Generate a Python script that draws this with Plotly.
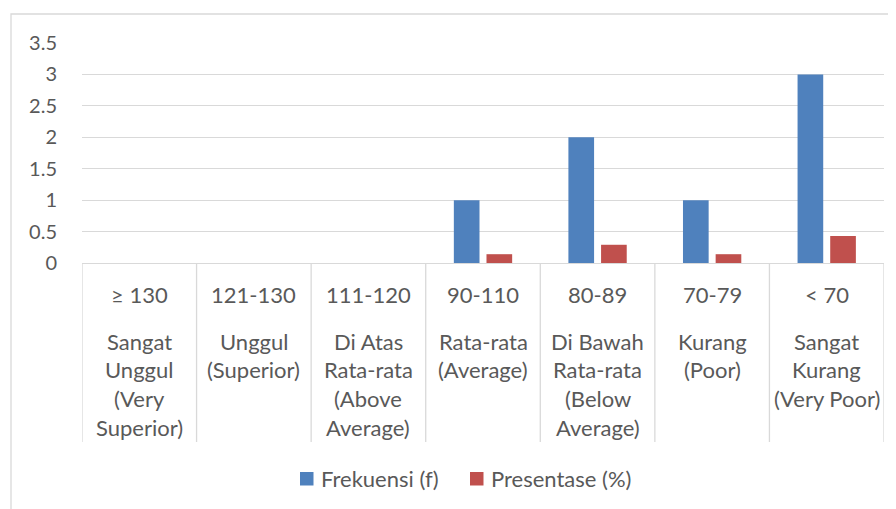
import plotly.graph_objects as go

categories = ["≥ 130", "121-130", "111-120", "90-110", "80-89", "70-79", "< 70"]
descriptions = [
    ["Sangat", "Unggul", "(Very", "Superior)"],
    ["Unggul", "(Superior)"],
    ["Di Atas", "Rata-rata", "(Above", "Average)"],
    ["Rata-rata", "(Average)"],
    ["Di Bawah", "Rata-rata", "(Below", "Average)"],
    ["Kurang", "(Poor)"],
    ["Sangat", "Kurang", "(Very Poor)"],
]
frekuensi = [0, 0, 0, 1, 2, 1, 3]
presentase = [0, 0, 0, 0.14, 0.29, 0.14, 0.43]
y_ticks = [0, 0.5, 1, 1.5, 2, 2.5, 3, 3.5]
series_names = ["Frekuensi (f)", "Presentase (%)"]
series_colors = ["#4F81BD", "#C0504D"]

W, H = 896, 509
OFF = 8  # page body margin
L, R, T, B = 74, 20, 35, 254
plot_w = W - L - R
plot_h = H - T - B
FONT = "Lato"
TXT = "#595959"
GRID = "#d9d9d9"
FS = 22

def py(pix):
    # screen pixel row -> paper y
    return (H - B - (pix - OFF)) / plot_h

def px(pix):
    return (pix - OFF - L) / plot_w

fig = go.Figure()
fig.add_bar(x=categories, y=frekuensi, name=series_names[0],
            marker=dict(color=series_colors[0], line=dict(width=0)))
fig.add_bar(x=categories, y=presentase, name=series_names[1],
            marker=dict(color=series_colors[1], line=dict(width=0)))

annotations = []
for i, cat in enumerate(categories):
    annotations.append(dict(x=cat, y=py(294), xref="x", yref="paper", text=cat,
                            showarrow=False, yanchor="middle", xanchor="center",
                            font=dict(family=FONT, size=FS, color=TXT)))
    for j, line in enumerate(descriptions[i]):
        annotations.append(dict(x=cat, y=py(341 + j * 28.7), xref="x", yref="paper",
                                text=line, showarrow=False, yanchor="middle",
                                xanchor="center",
                                font=dict(family=FONT, size=FS, color=TXT)))

shapes = []
for k in range(len(categories) + 1):
    shapes.append(dict(type="line", xref="x", yref="paper", x0=k - 0.5, x1=k - 0.5,
                       y0=0, y1=py(442), line=dict(color=GRID, width=1.3)))
# outer chart border
shapes.append(dict(type="rect", xref="paper", yref="paper",
                   x0=px(11), x1=px(W + 30), y0=py(H + 30), y1=py(14),
                   line=dict(color=GRID, width=1.3)))

# custom legend
leg_sq = [300, 470]
leg_tx = [319, 489]
for name, col, sx, tx in zip(series_names, series_colors, leg_sq, leg_tx):
    shapes.append(dict(type="rect", xref="paper", yref="paper",
                       x0=px(sx), x1=px(sx + 13.5), y0=py(485.5), y1=py(472),
                       fillcolor=col, line=dict(width=0)))
    annotations.append(dict(x=px(tx), y=py(478), xref="paper", yref="paper",
                            text=name, showarrow=False, xanchor="left",
                            yanchor="middle",
                            font=dict(family=FONT, size=FS, color=TXT)))

fig.update_layout(
    width=W, height=H,
    margin=dict(l=L, r=R, t=T, b=B),
    paper_bgcolor="white", plot_bgcolor="white",
    barmode="group", bargap=0.43, bargroupgap=0.214,
    font=dict(family=FONT, size=FS, color=TXT),
    showlegend=False,
    annotations=annotations,
    shapes=shapes,
    xaxis=dict(type="category", range=[-0.5, len(categories) - 0.5],
               showticklabels=False, ticks="", showgrid=False,
               showline=True, linecolor=GRID, linewidth=1.3, zeroline=False),
    yaxis=dict(range=[0, 3.5], tickvals=y_ticks, ticktext=[f"{v:g}" for v in y_ticks],
               showgrid=True, gridcolor=GRID, gridwidth=1.3, zeroline=False,
               showline=False, ticks="", ticklabelstandoff=24,
               tickfont=dict(family=FONT, size=20, color=TXT)),
)

fig.write_html("out.html")
